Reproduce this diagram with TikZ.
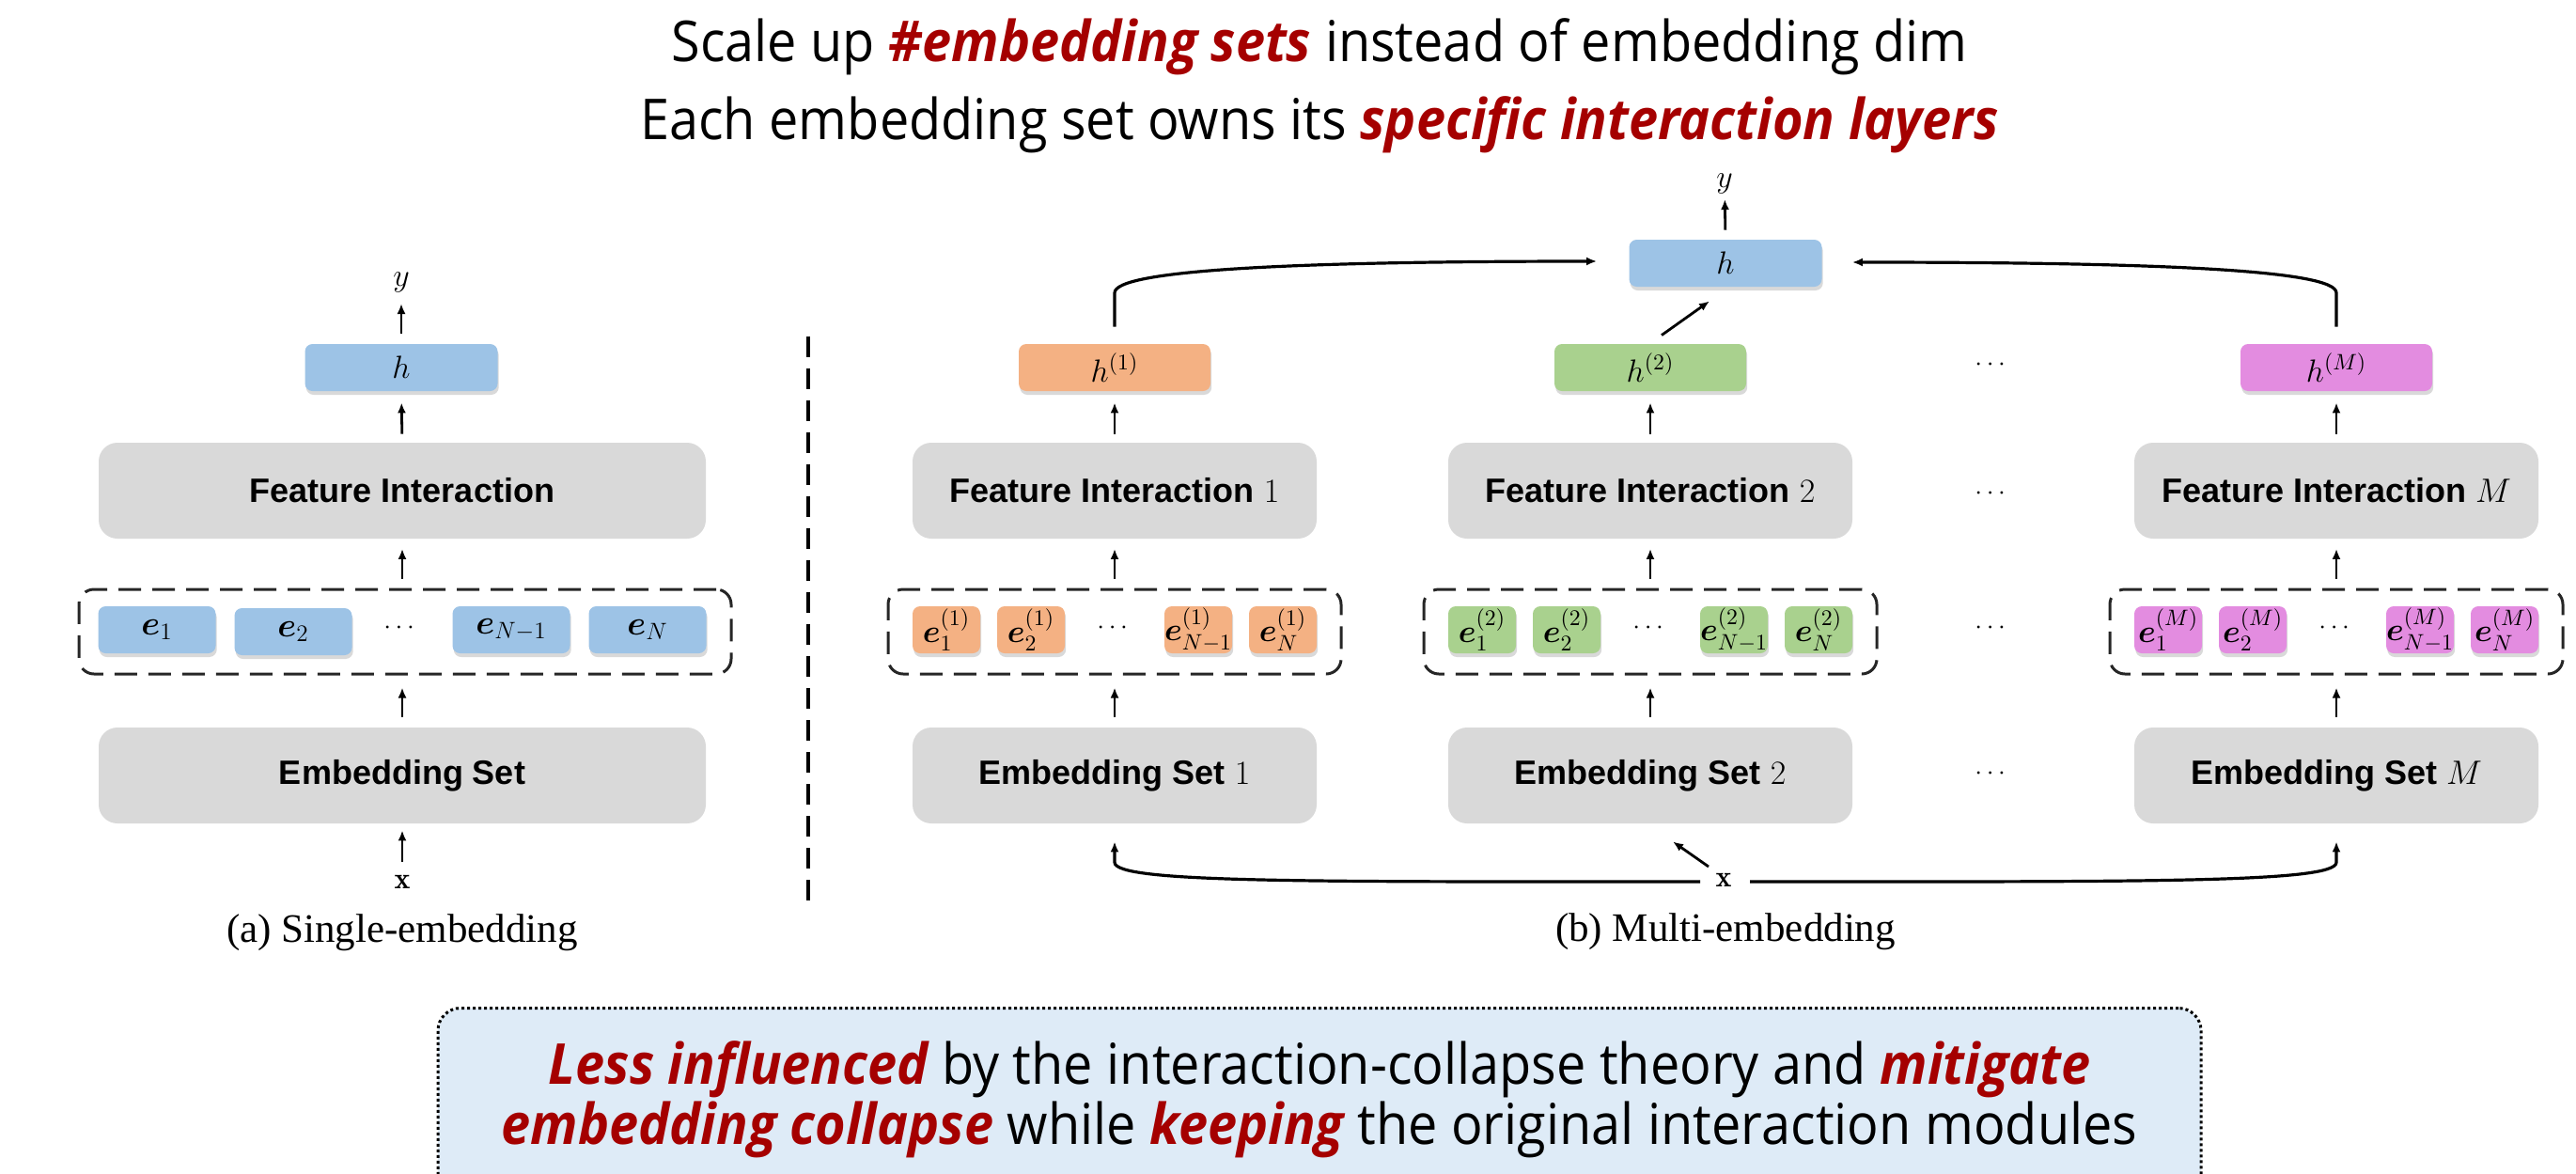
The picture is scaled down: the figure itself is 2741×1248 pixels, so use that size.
\RequirePackage{fix-cm}
\documentclass[tikz,border=0pt]{standalone}
\usepackage{amsmath,bm}
\usepackage{fontspec}
\newfontfamily\segoe[FakeStretch=0.93]{Open Sans}
\newfontfamily\arialf{Liberation Sans}
\newfontfamily\capfont{Liberation Serif}
\usetikzlibrary{shadows,arrows.meta,calc}
\definecolor{dred}{HTML}{A50000}
\definecolor{bblue}{HTML}{9DC3E6}
\definecolor{borange}{HTML}{F4B183}
\definecolor{bgreen}{HTML}{A9D18E}
\definecolor{bpink}{HTML}{E38CE0}
\definecolor{bgray}{HTML}{D9D9D9}
\definecolor{bgfill}{HTML}{DEEBF7}
\newcommand{\hl}[1]{{\color{dred}\bfseries\itshape #1}}
\begin{document}
\begin{tikzpicture}[x=0.5pt,y=-0.5pt,
  arr/.style={line width=1.4pt,-{Latex[length=5.5pt,width=4.5pt]}},
  gbox/.style={fill=bgray,rounded corners=10pt,minimum height=51pt,inner sep=0pt,
    font=\arialf\bfseries\fontsize{18}{21}\selectfont},
  sbox/.style={rounded corners=4pt,minimum height=25pt,inner sep=0pt,
    drop shadow={shadow xshift=0.6pt,shadow yshift=-2pt,opacity=0.3},
    font=\fontsize{17}{19}\selectfont},
  dbox/.style={draw=black!85,line width=1.5pt,dash pattern=on 12pt off 6pt,
    rounded corners=8pt,minimum height=45pt,inner sep=0pt},
  lbl/.style={inner sep=0pt,font=\fontsize{17}{19}\selectfont},
  dotl/.style={inner sep=0pt,font=\fontsize{14}{16}\selectfont},
  captext/.style={inner sep=0pt,font=\capfont\fontsize{21.5}{24}\selectfont},
  ttl/.style={anchor=base,inner sep=0pt,font=\segoe\fontsize{30}{36}\selectfont},
  notetext/.style={anchor=base,inner sep=0pt,font=\segoe\fontsize{30}{36}\selectfont}]
\useasboundingbox (0,0) rectangle (2741,1248);

% ---------- title ----------
\node[ttl] (t1) at (1404,65) {Scale up \hl{\#embedding sets} instead of embedding dim};
\node[ttl] (t2) at (1404,148) {Each embedding set owns its \hl{specific interaction layers}};

% ---------- (a) single embedding ----------
\node[lbl] (ya) at (427,300) {$y$};
\node[sbox,fill=bblue,minimum width=102.5pt] (ha) at (427,391) {$h$};
\node[gbox,minimum width=323pt] (fia) at (428,522) {Feature Interaction};
\node[dbox,minimum width=347pt] (da) at (431,672) {};
\node[sbox,fill=bblue,minimum width=62.5pt,font=\fontsize{18}{20}\selectfont] (ea1) at (167,670) {$\bm{e}_1$};
\node[sbox,fill=bblue,minimum width=62.5pt,font=\fontsize{18}{20}\selectfont] (ea2) at (312,672) {$\bm{e}_2$};
\node[dotl] (dota) at (427,668) {$\cdots$};
\node[sbox,fill=bblue,minimum width=62.5pt,font=\fontsize{18}{20}\selectfont] (ea3) at (544,670) {$\bm{e}_{N-1}$};
\node[sbox,fill=bblue,minimum width=62.5pt,font=\fontsize{18}{20}\selectfont] (ea4) at (689,670) {$\bm{e}_N$};
\node[gbox,minimum width=323pt] (esa) at (428,825) {Embedding Set};
\node[lbl,font=\fontsize{16}{18}\selectfont] (xa) at (428,938) {$\mathbf{x}$};
\node[captext] (capa) at (428,992) {(a) Single-embedding};

\draw[arr,shorten <=5.5pt,shorten >=11.5pt] (ha.north) -- (ya.center);
\draw[arr,shorten <=4.5pt,shorten >=6pt] (fia.north) -- (ha.south);
\draw[arr,shorten <=5pt,shorten >=5.25pt] (fia.south |- da.north) -- (fia.south);
\draw[arr,shorten <=5.25pt,shorten >=6.5pt] (esa.north) -- (esa.north |- da.south);
\draw[arr,shorten <=10.5pt,shorten >=3.5pt] (xa.center) -- (esa.south);

% divider
\draw[line width=2pt,dash pattern=on 11pt off 6pt] (860,358) -- (860,970);

% ---------- (b) multi embedding ----------
\node[lbl] (yb) at (1835,195) {$y$};
\node[sbox,fill=bblue,minimum width=102.5pt] (hb) at (1836,280) {$h$};

\foreach \c/\n/\col in {1186/1/borange, 1756/2/bgreen, 2486/M/bpink}{
  \node[sbox,fill=\col,minimum width=102pt] (h\n) at (\c,391) {$h^{(\n)}$};
  \node[gbox,minimum width=215pt] (fi\n) at (\c,522) {Feature Interaction $\n$};
  \node[dbox,minimum width=241pt] (d\n) at (\c,672) {};
  \node[sbox,fill=\col,minimum width=36pt] (e\n a) at (\c-179,670) {$\bm{e}_1^{(\n)}$};
  \node[sbox,fill=\col,minimum width=36pt] (e\n b) at (\c-89,670) {$\bm{e}_2^{(\n)}$};
  \node[dotl] (dot\n) at (\c,668) {$\cdots$};
  \node[sbox,fill=\col,minimum width=36pt] (e\n c) at (\c+89,670) {$\bm{e}_{N-1}^{(\n)}$};
  \node[sbox,fill=\col,minimum width=36pt] (e\n d) at (\c+179,670) {$\bm{e}_N^{(\n)}$};
  \node[gbox,minimum width=215pt] (es\n) at (\c,825) {Embedding Set $\n$};
  \draw[arr,shorten <=4.5pt,shorten >=6pt] (fi\n.north) -- (h\n.south);
  \draw[arr,shorten <=5pt,shorten >=5.25pt] (d\n.north) -- (fi\n.south);
  \draw[arr,shorten <=5.25pt,shorten >=6.5pt] (es\n.north) -- (d\n.south);
}

\node[dotl] (dh) at (2120,388) {$\cdots$};
\node[dotl] (dfi) at (2120,525) {$\cdots$};
\node[dotl] (de) at (2120,668) {$\cdots$};
\node[dotl] (des) at (2120,823) {$\cdots$};

\node[lbl,font=\fontsize{16}{18}\selectfont] (xb) at (1834,936) {$\mathbf{x}$};
\node[captext] (capb) at (1836,991) {(b) Multi-embedding};

% outputs to h
\draw[arr,shorten <=5pt,shorten >=8.5pt] (hb.north) -- (yb.center);
\draw[arr,line width=1.6pt] ($(h1.north)+(0,-18)$) -- ($(h1.north)+(0,-54)$)
   .. controls +(0,-24) and +(-330,0) .. ($(hb.west)+(-34,-2)$);
\draw[arr,line width=1.6pt] ($(hM.north)+(0,-18)$) -- ($(hM.north)+(0,-54)$)
   .. controls +(0,-24) and +(330,0) .. ($(hb.east)+(32,-1)$);
\draw[arr] ($(h2.north)+(12,-9)$) -- ($(hb.south)+(-17,15)$);

% x to embedding sets
\draw[arr,line width=1.6pt] ($(xb.center)+(-25,2)$)
   .. controls +(-420,0) and +(0,22) .. ($(es1.south)+(0,41)$) -- ($(es1.south)+(0,19)$);
\draw[arr,line width=1.6pt] ($(xb.center)+(28,2)$)
   .. controls +(420,0) and +(0,22) .. ($(esM.south)+(0,41)$) -- ($(esM.south)+(0,19)$);
\draw[arr] ($(xb.center)+(-16,-14)$) -- ($(es2.south)+(24,19)$);

% ---------- bottom note ----------
\node[draw,line width=1.5pt,dash pattern=on 1.5pt off 1.5pt,fill=bgfill,rounded corners=12pt,
      minimum width=938pt,minimum height=125pt,anchor=north,inner sep=0pt] (nbox) at (1404,1071) {};
\node[notetext] (n1) at (1404,1153) {\hl{Less influenced} by the interaction-collapse theory and \hl{mitigate}};
\node[notetext] (n2) at (1404,1217) {\hl{embedding collapse} while \hl{keeping} the original interaction modules};
\end{tikzpicture}
\end{document}
